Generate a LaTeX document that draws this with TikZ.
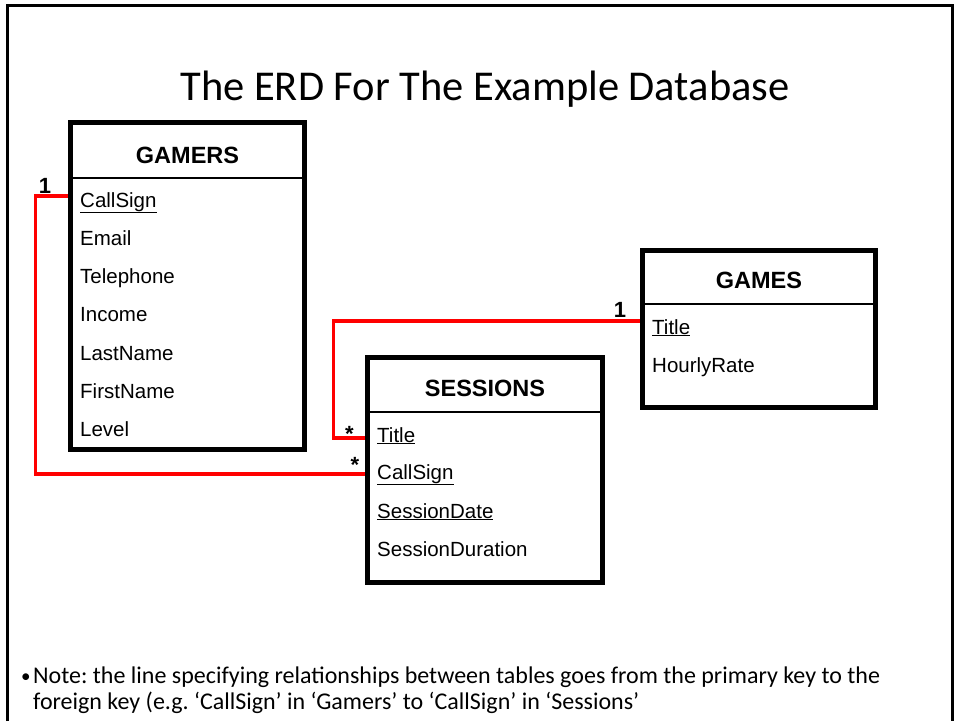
\documentclass[tikz,border=0pt]{standalone}
\usepackage{fontspec}
\setmainfont{Liberation Sans}
\newfontfamily\slidefont{Carlito}

\begin{document}
\frenchspacing
\begin{tikzpicture}[x=1pt,y=-1pt,
  tablebox/.style={draw=black,line width=5pt,fill=white,inner sep=0pt,outer sep=0pt,anchor=north west},
  headline/.style={line width=2pt},
  header/.style={font=\fontsize{23.5}{26}\selectfont\bfseries,anchor=base,inner sep=0pt},
  field/.style={font=\fontsize{20.5}{24}\selectfont,anchor=base west,inner sep=0pt},
  rel/.style={draw=red,line width=3.5pt},
  mult/.style={font=\fontsize{22}{24}\selectfont\bfseries,anchor=base,inner sep=0pt},
  notetext/.style={font=\fontsize{24}{26}\selectfont\slidefont,anchor=base west,inner sep=0pt,align=left},
  slideframe/.style={line width=3pt}]

\useasboundingbox (0,0) rectangle (955,721);

% slide frame
\draw[slideframe] (7,721) -- (7,5) -- (952,5) -- (952,721);

% title
\node[font=\fontsize{42.5}{50}\selectfont\slidefont,anchor=base] (title) at (485,100) {The ERD For The Example Database};

% relationship connector end points
\coordinate (pkGamersCallSign) at (70.5,196);
\coordinate (fkSessionsCallSign) at (367.5,474);
\coordinate (pkGamesTitle) at (642.5,321);
\coordinate (fkSessionsTitle) at (367.5,438);

% relationships (drawn under the tables)
\draw[rel] (pkGamersCallSign) -- ++(-35,0) |- (fkSessionsCallSign);
\draw[rel] (pkGamesTitle) -- ++(-309,0) |- (fkSessionsTitle);

% GAMERS table
\node[tablebox,minimum width=234pt,minimum height=327pt] (gamers) at (70.5,122.5) {};
\draw[headline] (gamers.north west) ++(0,55.5) -- ++(234,0);
\node[header] (gamersHead) at (187.5,163) {GAMERS};
\node[field] (gCallSign) at (80,207) {\underline{CallSign}};
\node[field] (gEmail) at (80,245) {Email};
\node[field] (gTelephone) at (80,283) {Telephone};
\node[field] (gIncome) at (80,321) {Income};
\node[field] (gLastName) at (80,360) {LastName};
\node[field] (gFirstName) at (80,398) {FirstName};
\node[field] (gLevel) at (80,436) {Level};

% SESSIONS table
\node[tablebox,minimum width=235pt,minimum height=225pt] (sessions) at (367.5,357.5) {};
\draw[headline] (sessions.north west) ++(0,54.5) -- ++(235,0);
\node[header] (sessionsHead) at (485,396) {SESSIONS};
\node[field] (sTitle) at (377,442) {\underline{Title}};
\node[field] (sCallSign) at (377,479) {\underline{CallSign}};
\node[field] (sSessionDate) at (377,518) {\underline{SessionDate}};
\node[field] (sSessionDuration) at (377,556) {SessionDuration};

% GAMES table
\node[tablebox,minimum width=233pt,minimum height=157pt] (games) at (642.5,250.5) {};
\draw[headline] (games.north west) ++(0,53.5) -- ++(233,0);
\node[header] (gamesHead) at (759,288) {GAMES};
\node[field] (gmTitle) at (652,334) {\underline{Title}};
\node[field] (gmHourlyRate) at (652,372) {HourlyRate};

% multiplicities
\node[mult] (oneGamers) at (45,193) {1};
\node[mult] (oneGames) at (620,317) {1};
\node[mult] (manyTitle) at (349.5,441.5) {*};
\node[mult] (manyCallSign) at (355,472) {*};

% note (base anchor sits on the last line)
\node[notetext,font=\fontsize{19}{20}\selectfont\slidefont] (bullet) at (21,682) {\textbullet};
\node[notetext] (note) at (33,709)
  {Note: the line specifying relationships between tables goes from the primary key to the\\
   foreign key (e.g. ‘CallSign’ in ‘Gamers’ to ‘CallSign’ in ‘Sessions’};
\end{tikzpicture}
\end{document}
